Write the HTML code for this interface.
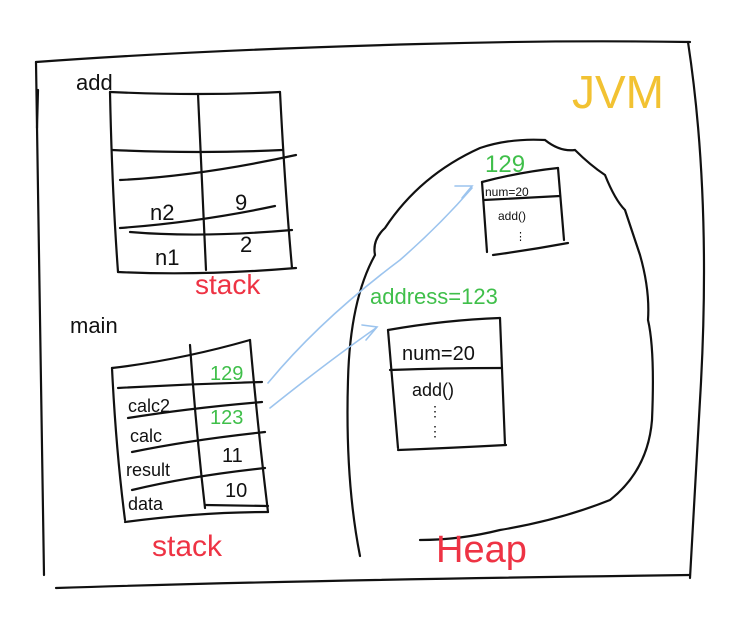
<!DOCTYPE html>
<html><head><meta charset="utf-8"><style>
html,body{margin:0;padding:0;background:#fff}
svg{display:block}
text{font-family:"Liberation Sans",sans-serif}
</style></head><body>
<svg width="740" height="634" viewBox="0 0 740 634" xmlns="http://www.w3.org/2000/svg">
<g fill="none" stroke="#111" stroke-width="2.2" stroke-linecap="round">
<!-- frame -->
<path d="M36 62 Q200 50 420 44 Q560 40 690 42"/>
<path d="M36 62 Q40 300 44 575"/>
<path d="M38 90 L37 128"/>
<path d="M688 42 Q712 200 700 400 Q694 500 690 578"/>
<path d="M56 588 Q300 580 690 575"/>
<!-- add stack -->
<path d="M110 92 Q200 96 280 92"/>
<path d="M110 92 Q112 190 118 272"/>
<path d="M280 92 Q285 190 292 268"/>
<path d="M118 272 Q200 276 296 268"/>
<path d="M198 94 Q202 180 206 270"/>
<path d="M112 150 Q200 154 282 150"/>
<path d="M120 180 Q200 176 296 155"/>
<path d="M120 228 Q200 222 275 206"/>
<path d="M130 232 Q200 238 292 230"/>
<!-- main stack -->
<path d="M112 368 Q180 360 250 340"/>
<path d="M112 368 Q116 450 125 520"/>
<path d="M250 340 Q258 430 268 512"/>
<path d="M125 522 Q200 512 268 512"/>
<path d="M190 345 Q196 430 205 508"/>
<path d="M118 388 Q190 384 262 382"/>
<path d="M128 418 Q190 408 262 402"/>
<path d="M132 452 Q190 440 265 432"/>
<path d="M132 490 Q190 476 265 468"/>
<path d="M205 505 L268 506"/>
<!-- heap blob -->
<path d="M360 556 Q345 480 348 380 Q350 300 375 255 Q372 240 385 228 Q420 175 480 148 Q510 138 545 140 Q560 152 575 150 Q590 165 605 175 Q615 200 625 210 Q635 240 640 255 Q650 290 648 320 Q655 350 652 420 Q648 470 610 500 Q560 520 500 530 Q460 540 420 540"/>
<!-- small object -->
<path d="M482 182 Q520 172 558 168"/>
<path d="M482 182 L487 252"/>
<path d="M558 168 L564 240"/>
<path d="M493 255 Q530 250 568 243"/>
<path d="M484 200 Q520 198 560 196"/>
<!-- large object -->
<path d="M388 330 Q445 320 500 318"/>
<path d="M388 330 L398 448"/>
<path d="M500 318 L505 445"/>
<path d="M398 450 Q450 448 506 445"/>
<path d="M390 370 Q445 368 502 368"/>
</g>
<g fill="none" stroke="#9cc4ee" stroke-width="1.6" stroke-linecap="round">
<path d="M268 383 Q320 320 400 260 Q440 225 472 188"/>
<path d="M455 186 L472 186 L462 198"/>
<path d="M270 408 Q330 360 376 328"/>
<path d="M362 325 L377 327 L366 340"/>
</g>
<g font-size="22" fill="#111">
<text x="76" y="90">add</text>
<text x="70" y="333">main</text>
<text x="150" y="220" font-size="22">n2</text>
<text x="235" y="210" font-size="22">9</text>
<text x="155" y="265">n1</text>
<text x="240" y="252">2</text>
<text x="128" y="412" font-size="18">calc2</text>
<text x="130" y="442" font-size="18">calc</text>
<text x="126" y="476" font-size="18">result</text>
<text x="128" y="510" font-size="18">data</text>
<text x="222" y="462" font-size="20">11</text>
<text x="225" y="497" font-size="20">10</text>
<text x="402" y="360" font-size="20">num=20</text>
<text x="412" y="396" font-size="18">add()</text>
<text x="428" y="416" font-size="14">⋮</text>
<text x="428" y="436" font-size="14">⋮</text>
<text x="485" y="196" font-size="12">num=20</text>
<text x="498" y="220" font-size="12">add()</text>
<text x="515" y="240" font-size="11">⋮</text>
</g>
<g fill="#3fbf4a">
<text x="210" y="380" font-size="20">129</text>
<text x="210" y="424" font-size="20">123</text>
<text x="485" y="172" font-size="24">129</text>
<text x="370" y="304" font-size="22">address=123</text>
</g>
<g fill="#ee3344">
<text x="195" y="294" font-size="28">stack</text>
<text x="152" y="556" font-size="30">stack</text>
<text x="436" y="562" font-size="38">Heap</text>
</g>
<text x="572" y="108" font-size="46" fill="#f2c232">JVM</text>
</svg>
</body></html>
